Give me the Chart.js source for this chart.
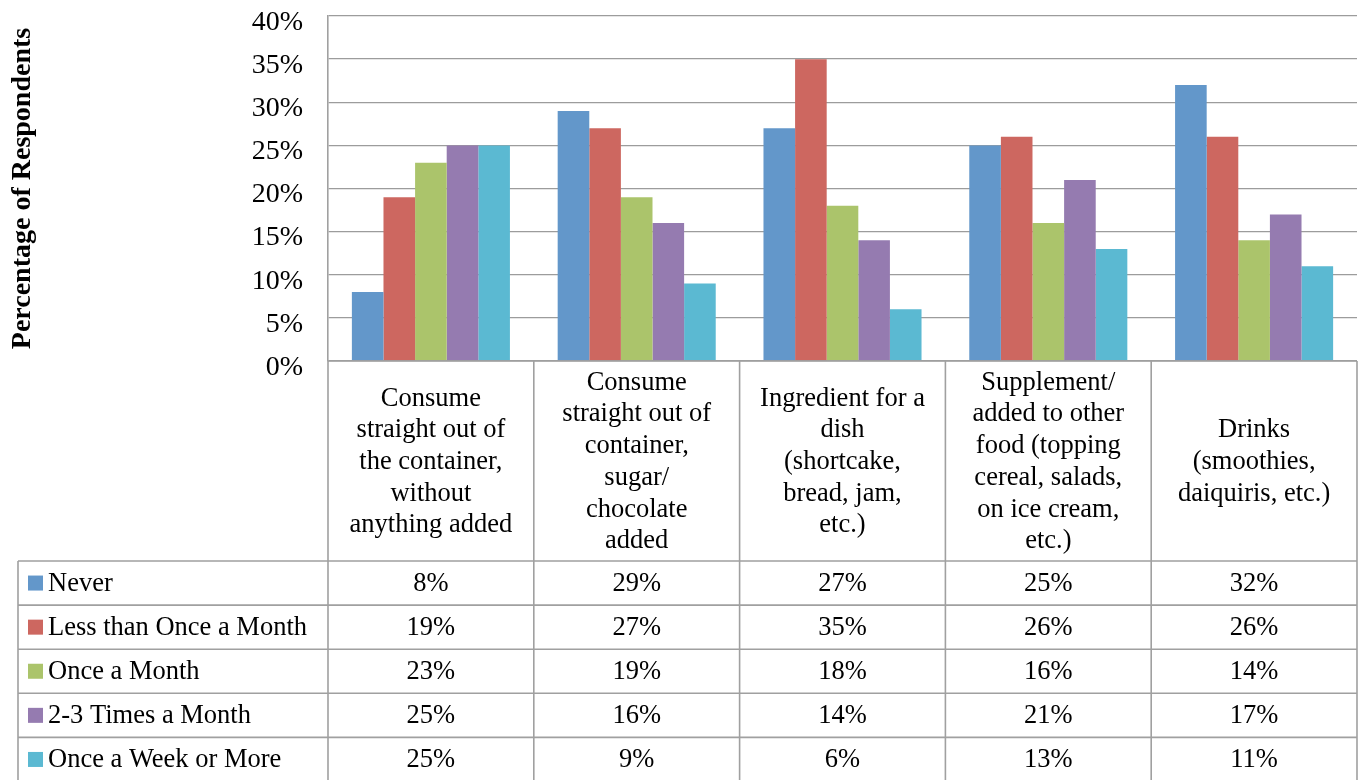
<!DOCTYPE html>
<html>
<head>
<meta charset="utf-8">
<title>Percentage of Respondents by Use</title>
<script src="https://cdn.jsdelivr.net/npm/chart.js@4/dist/chart.umd.min.js"></script>
<style>
  html, body { margin: 0; padding: 0; background: #ffffff; }
  #wrap { width: 1360px; height: 780px; position: relative; }
</style>
</head>
<body>
<div id="wrap"><canvas id="chart" width="1360" height="780"></canvas></div>
<script>
// Categories (line breaks as shown in the table header)
const categories = [
  ["Consume", "straight out of", "the container,", "without", "anything added"],
  ["Consume", "straight out of", "container,", "sugar/", "chocolate", "added"],
  ["Ingredient for a", "dish", "(shortcake,", "bread, jam,", "etc.)"],
  ["Supplement/", "added to other", "food (topping", "cereal, salads,", "on ice cream,", "etc.)"],
  ["Drinks", "(smoothies,", "daiquiris, etc.)"]
];

const seriesNames = ["Never", "Less than Once a Month", "Once a Month", "2-3 Times a Month", "Once a Week or More"];

// Percent of respondents per category
const never           = [8, 29, 27, 25, 32];
const lessThanMonthly = [19, 27, 35, 26, 26];
const onceMonthly     = [23, 19, 18, 16, 14];
const twoThreeMonthly = [25, 16, 14, 21, 17];
const weeklyOrMore    = [25, 9, 6, 13, 11];

const yTicks = [0, 5, 10, 15, 20, 25, 30, 35, 40];

const seriesColors = ["#6397CA", "#CD6760", "#ABC46B", "#957BB0", "#5BB9D2"];
const seriesValues = [never, lessThanMonthly, onceMonthly, twoThreeMonthly, weeklyOrMore];

const FONT = "'Liberation Serif', 'Times New Roman', serif";
const LINE = "#a0a0a0";

// Data table under the plot: category header row, then one row per series
const dataTable = {
  id: "dataTable",
  afterDraw(chart) {
    const ctx = chart.ctx;
    const area = chart.chartArea;
    const x = chart.scales.x;
    const n = categories.length;
    const step = (area.right - area.left) / n;
    const headerH = 200;
    const rowH = 44.1;
    const legendLeft = 18;
    const top = area.bottom;
    const headerBottom = top + headerH;
    const bottom = chart.height;

    const edges = [];
    for (let i = 0; i < n; i++) edges.push(x.getPixelForValue(i) - step / 2);
    edges.push(x.getPixelForValue(n - 1) + step / 2);

    ctx.save();
    ctx.strokeStyle = LINE;
    ctx.lineWidth = 1.6;
    ctx.beginPath();
    // column borders
    edges.forEach(e => { ctx.moveTo(e, top); ctx.lineTo(e, bottom); });
    // legend column left border
    ctx.moveTo(legendLeft, headerBottom); ctx.lineTo(legendLeft, bottom);
    // header top border (axis line)
    ctx.moveTo(edges[0], top); ctx.lineTo(edges[n], top);
    // row borders
    for (let r = 0; r < seriesNames.length; r++) {
      const y = headerBottom + r * rowH;
      ctx.moveTo(legendLeft, y); ctx.lineTo(edges[n], y);
    }
    ctx.stroke();

    ctx.fillStyle = "#000";
    ctx.font = "26.5px " + FONT;
    ctx.textBaseline = "middle";

    // category header labels
    ctx.textAlign = "center";
    const lh = 31.7;
    categories.forEach((lines, i) => {
      const cx = x.getPixelForValue(i);
      const cy = top + headerH / 2;
      const start = cy - (lines.length - 1) * lh / 2;
      lines.forEach((t, k) => ctx.fillText(t, cx, start + k * lh + 1));
    });

    // series rows
    seriesNames.forEach((name, r) => {
      const cy = headerBottom + r * rowH + rowH / 2;
      ctx.fillStyle = seriesColors[r];
      ctx.fillRect(28, cy - 7.5, 15, 15);
      ctx.fillStyle = "#000";
      ctx.textAlign = "left";
      ctx.fillText(name, 48, cy + 1);
      ctx.textAlign = "center";
      seriesValues[r].forEach((v, i) => {
        ctx.fillText(v + "%", x.getPixelForValue(i), cy + 1);
      });
    });
    ctx.restore();
  }
};

new Chart(document.getElementById("chart"), {
  type: "bar",
  data: {
    labels: categories.map(c => c.join(" ")),
    datasets: seriesNames.map((name, i) => ({
      label: name,
      data: seriesValues[i],
      backgroundColor: seriesColors[i],
      borderWidth: 0,
      categoryPercentage: 0.768,
      barPercentage: 1.0
    }))
  },
  options: {
    responsive: false,
    animation: false,
    events: [],
    layout: { padding: { left: 6, top: 16, right: 3, bottom: 419 } },
    plugins: {
      legend: { display: false },
      tooltip: { enabled: false },
      title: { display: false }
    },
    scales: {
      x: { display: false },
      y: {
        min: 0,
        max: 40,
        afterBuildTicks(scale) { scale.ticks = yTicks.map(v => ({ value: v })); },
        afterFit(scale) { scale.width = 322; },
        ticks: {
          padding: 0,
          color: "#000",
          font: { family: FONT, size: 28, lineHeight: 0.46 },
          // empty first line drops each label slightly below its gridline
          callback: v => ["", v + "%"]
        },
        grid: {
          color: "#9c9c9c",
          lineWidth: 1.3,
          drawTicks: true,
          tickLength: 25,
          tickColor: "rgba(0,0,0,0)"
        },
        border: { color: LINE, width: 1.6 },
        title: {
          display: true,
          text: "Percentage of Respondents",
          color: "#000",
          font: { family: FONT, size: 28, weight: "bold" },
          padding: 0
        }
      }
    }
  },
  plugins: [dataTable]
});
</script>
</body>
</html>
